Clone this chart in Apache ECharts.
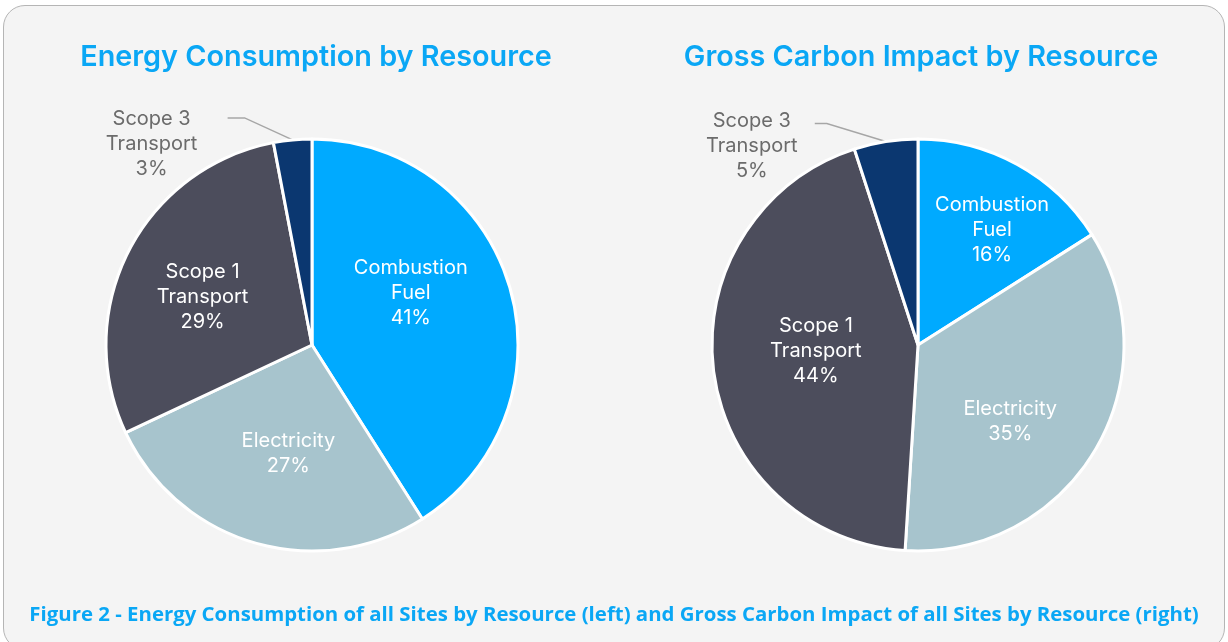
<!DOCTYPE html>
<html>
<head>
<meta charset="utf-8">
<script src="https://cdn.jsdelivr.net/npm/echarts@6/dist/echarts.min.js"></script>
<style>
    html, body {
        margin: 0;
        padding: 0;
        background: #ffffff;
        width: 1228px;
        height: 642px;
        overflow: hidden;
    }
    .frame {
        position: absolute;
        left: 3px;
        top: 5px;
        width: 1222px;
        height: 645px;
        border: 1px solid #b5b5b5;
        border-radius: 22px;
        background: #f4f4f4;
        box-sizing: border-box;
    }
    #chart {
        position: absolute;
        left: 0;
        top: 0;
        width: 1228px;
        height: 642px;
    }
</style>
</head>
<body>
<div class="frame"></div>
<div id="chart"></div>
<script>
    // data
    const categories = ['Combustion Fuel', 'Electricity', 'Scope 1 Transport', 'Scope 3 Transport'];
    const energyValues = [41, 27, 29, 3];
    const carbonValues = [16, 35, 44, 5];
    const colors = ['#00aaff', '#a7c4cd', '#4c4d5c', '#0b3770'];

    const labelNames = {
        'Combustion Fuel': 'Combustion\nFuel',
        'Electricity': 'Electricity',
        'Scope 1 Transport': 'Scope 1\nTransport',
        'Scope 3 Transport': 'Scope 3\nTransport'
    };

    // label nudges (per series, per slice) so the text sits like the original
    const labelNudge = [
        [[-3, -22], [6, 7], [-15, 0]],
        [[23, -22], [1, 23], [3, -7]]
    ];
    // leader line for the small outer slice: bend point, end point, text centre (relative)
    const leader = [
        {bend: [-48, -22], end: [-17, 0], text: [-76, 26]},
        {bend: [-59, -18], end: [-12, 0], text: [-63, 22]}
    ];

    function buildData(values) {
        return categories.map(function (name, i) {
            let item = {
                name: name,
                value: values[i],
                itemStyle: {color: colors[i]}
            };
            if (i === 3) {
                item.label = {
                    position: 'outside',
                    color: '#6b6b6b',
                    align: 'center'
                };
                item.labelLine = {
                    show: true,
                    length: 20,
                    length2: 20,
                    lineStyle: {color: '#a6a6a6', width: 1.5}
                };
            }
            return item;
        });
    }

    function pieSeries(values, centerX) {
        return {
            type: 'pie',
            center: [centerX, 345],
            radius: 206,
            startAngle: 90,
            clockwise: true,
            avoidLabelOverlap: false,
            itemStyle: {borderColor: '#ffffff', borderWidth: 3},
            label: {
                show: true,
                position: 'inside',
                color: '#ffffff',
                fontFamily: 'Inter',
                fontSize: 20,
                lineHeight: 25,
                formatter: function (p) {
                    return labelNames[p.name] + '\n' + p.value + '%';
                }
            },
            labelLine: {show: false},
            labelLayout: function (params) {
                let s = params.seriesIndex, i = params.dataIndex;
                if (i < 3) {
                    return {dx: labelNudge[s][i][0], dy: labelNudge[s][i][1]};
                }
                let p0 = params.labelLinePoints[0];
                let L = leader[s];
                let p1 = [p0[0] + L.bend[0], p0[1] + L.bend[1]];
                let p2 = [p1[0] + L.end[0], p1[1] + L.end[1]];
                return {
                    x: p2[0] + L.text[0],
                    y: p2[1] + L.text[1],
                    align: 'center',
                    verticalAlign: 'middle',
                    labelLinePoints: [p0, p1, p2]
                };
            },
            emphasis: {disabled: true},
            data: buildData(values)
        };
    }

    let myChart = echarts.init(document.getElementById('chart'));

    let option = {
        backgroundColor: 'transparent',
        animation: false,
        title: [
            {
                text: 'Energy Consumption by Resource',
                left: 311,
                top: 38,
                textAlign: 'center',
                textStyle: {color: '#0aa7f5', fontFamily: 'Inter', fontWeight: 600, fontSize: 28.8}
            },
            {
                text: 'Gross Carbon Impact by Resource',
                left: 916,
                top: 38,
                textAlign: 'center',
                textStyle: {color: '#0aa7f5', fontFamily: 'Inter', fontWeight: 600, fontSize: 28.8}
            },
            {
                text: 'Figure 2 - Energy Consumption of all Sites by Resource (left) and Gross Carbon Impact of all Sites by Resource (right)',
                left: 609,
                top: 600,
                textAlign: 'center',
                textStyle: {color: '#0aa7f5', fontFamily: 'Open Sans', fontWeight: 700, fontSize: 20.4}
            }
        ],
        series: [
            pieSeries(energyValues, 312),
            pieSeries(carbonValues, 918)
        ]
    };

    myChart.setOption(option);
</script>
</body>
</html>
